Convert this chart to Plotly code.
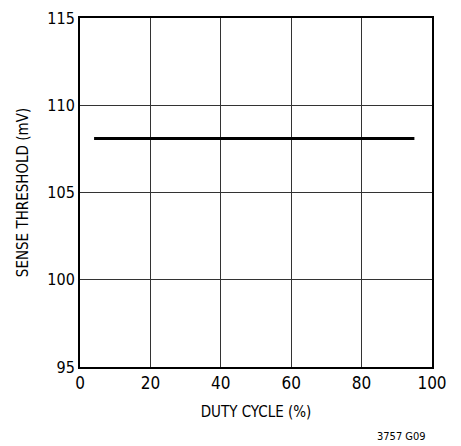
import plotly.graph_objects as go

duty_cycle = [4, 95]
sense_threshold = [108.1, 108.1]

x_ticks = [0, 20, 40, 60, 80, 100]
y_ticks = [95, 100, 105, 110, 115]

FONT = "DejaVu Sans Condensed, Liberation Sans Narrow, Roboto Condensed, Liberation Sans, Arial, sans-serif"

fig = go.Figure()
fig.add_trace(go.Scatter(x=duty_cycle, y=sense_threshold, mode="lines",
                         line=dict(color="black", width=3), showlegend=False,
                         hoverinfo="skip"))

fig.update_layout(
    width=453, height=438,
    margin=dict(l=72, r=29, t=10, b=79, autoexpand=False),
    paper_bgcolor="white", plot_bgcolor="white",
    font=dict(family=FONT, color="black", size=16),
)
fig.update_xaxes(range=[0, 100], tickvals=x_ticks, showgrid=True, automargin=False,
                 gridcolor="#333333", gridwidth=1, showline=True, linecolor="black",
                 linewidth=2, mirror=True, ticks="", zeroline=False,
                 tickfont=dict(size=17), ticklabeloverflow="allow",
                 title=dict(text="DUTY CYCLE (%)", font=dict(size=15), standoff=14))
fig.update_yaxes(range=[95, 115], tickvals=y_ticks, showgrid=True, automargin=False,
                 gridcolor="#333333", gridwidth=1, showline=True, linecolor="black",
                 linewidth=2, mirror=True, ticks="", zeroline=False,
                 tickfont=dict(size=16), ticklabeloverflow="allow",
                 title=dict(text="SENSE THRESHOLD (mV)", font=dict(size=15), standoff=15))
fig.add_annotation(text="3757 G09", xref="paper", yref="paper", x=0.989, y=-0.2,
                   xanchor="right", yanchor="middle", showarrow=False,
                   font=dict(size=11, family=FONT))

fig.write_html("out.html")
